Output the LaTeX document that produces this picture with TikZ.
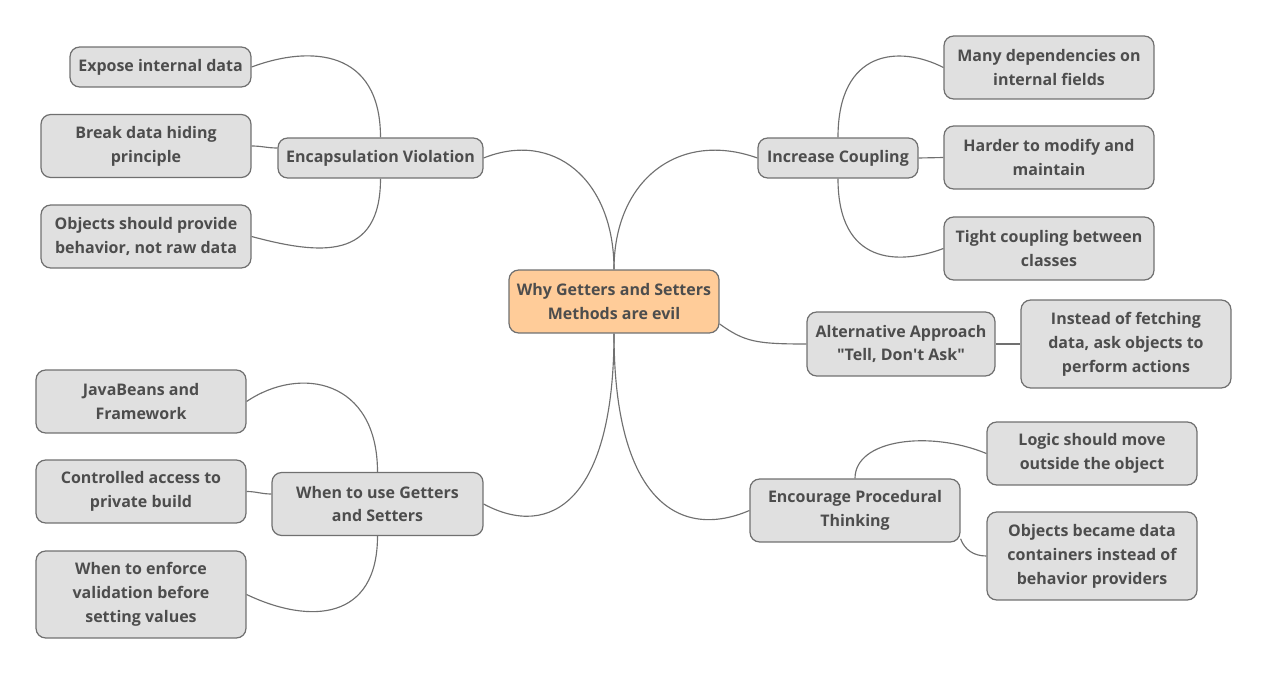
\documentclass[tikz,border=0pt]{standalone}
\usepackage{fontspec}
\setmainfont{Open Sans}
\usepackage{tikz}
\usetikzlibrary{positioning}
\usepackage{xcolor}
\definecolor{rootfill}{RGB}{255,204,153}
\definecolor{topicfill}{RGB}{224,224,224}
\definecolor{edge}{RGB}{112,112,112}
\definecolor{ink}{RGB}{77,77,77}
\tikzset{
  topic/.style={rounded corners=5.5pt, fill=topicfill, draw=edge, line width=0.7pt,
                text=ink, align=center, inner sep=0pt,
                font=\fontsize{9.1}{13.6}\selectfont\bfseries},
  rootnode/.style={topic, fill=rootfill},
  link/.style={draw=edge, line width=0.65pt},
}
\begin{document}
\begin{tikzpicture}[x=0.02cm, y=-0.02cm]
        \useasboundingbox (0, 0) rectangle (1269, 676);
        \node[rootnode, minimum width=4.2cm, minimum height=1.26cm] (root)
          at (614, 301.5) {Why Getters and Setters\\Methods are evil};
        \node[topic, minimum width=4.1cm, minimum height=0.8cm] (encap)
          at (380.5, 158) {Encapsulation Violation};
        \node[topic, minimum width=3.62cm, minimum height=0.8cm] (expose)
          at (160.5, 67) {Expose internal data};
        \node[topic, minimum width=4.2cm, minimum height=1.26cm] (breakhide)
          at (146, 146) {Break data hiding\\principle};
        \node[topic, minimum width=4.2cm, minimum height=1.26cm] (rawdata)
          at (146, 236.5) {Objects should provide\\behavior, not raw data};
        \draw[link] (root.north) .. controls +(0, -90) and +(70, -28) .. (encap.east);
        \draw[link] (encap.north) .. controls +(0, -88) and +(59, -22) .. (expose.east);
        \draw[link] ([yshift=0.2cm]encap.west) to[out=180, in=0] (breakhide.east);
        \draw[link] (encap.south) .. controls +(0, 82) and +(69, 18.5) .. (rawdata.east);
        \node[topic, minimum width=4.22cm, minimum height=1.26cm] (whenuse)
          at (377.5, 504) {When to use Getters\\and Setters};
        \node[topic, minimum width=4.2cm, minimum height=1.26cm] (javabeans)
          at (141, 401.5) {JavaBeans and\\Framework};
        \node[topic, minimum width=4.2cm, minimum height=1.26cm] (privacc)
          at (141, 491.5) {Controlled access to\\private build};
        \node[topic, minimum width=4.2cm, minimum height=1.74cm] (validate)
          at (141, 594.5) {When to enforce\\validation before\\setting values};
        \draw[link] (root.south) .. controls +(0, 167) and +(67, 36) .. (whenuse.east);
        \draw[link] (whenuse.north) .. controls +(0, -92) and +(54, -36.5) .. (javabeans.east);
        \draw[link] ([yshift=0.2cm]whenuse.west) to[out=180, in=0] (privacc.east);
        \draw[link] (whenuse.south) .. controls +(0, 84) and +(64, 30.5) .. (validate.east);
        \node[topic, minimum width=3.2cm, minimum height=0.8cm] (coupling)
          at (838, 158) {Increase Coupling};
        \node[topic, minimum width=4.2cm, minimum height=1.26cm] (deps)
          at (1049, 67.5) {Many dependencies on\\internal fields};
        \node[topic, minimum width=4.2cm, minimum height=1.26cm] (modify)
          at (1049, 157.5) {Harder to modify and\\maintain};
        \node[topic, minimum width=4.2cm, minimum height=1.26cm] (tight)
          at (1049, 248.5) {Tight coupling between\\classes};
        \draw[link] (root.north) .. controls +(0, -90) and +(-78, -28) .. (coupling.west);
        \draw[link] (coupling.north) .. controls +(0, -88) and +(-44, -22.5) .. (deps.west);
        \draw[link] (coupling.east) -- (modify.west);
        \draw[link] (coupling.south) .. controls +(0, 87) and +(-44, 16.5) .. (tight.west);
        \node[topic, minimum width=3.76cm, minimum height=1.28cm] (tellask)
          at (901, 344) {Alternative Approach\\\textquotedbl Tell, Don\textquotesingle t Ask\textquotedbl};
        \node[topic, minimum width=4.2cm, minimum height=1.76cm] (askobj)
          at (1126, 344) {Instead of fetching\\data, ask objects to\\perform actions};
        \draw[link] (root.-12) .. controls +(25, 18) and +(-50, 0) .. (tellask.west);
        \draw[link] (tellask.east) -- (askobj.west);
        \node[topic, minimum width=4.2cm, minimum height=1.26cm] (procedural)
          at (855, 510.5) {Encourage Procedural\\Thinking};
        \node[topic, minimum width=4.2cm, minimum height=1.26cm] (logic)
          at (1092, 453.5) {Logic should move\\outside the object};
        \node[topic, minimum width=4.2cm, minimum height=1.76cm] (containers)
          at (1092, 556) {Objects became data\\containers instead of\\behavior providers};
        \draw[link] (root.south) .. controls +(0, 167) and +(-70, 30) .. (procedural.west);
        \draw[link] (procedural.north) .. controls +(0, -39) and +(-57, -23.5) .. (logic.west);
        \draw[link] (procedural.-15) to[out=-70, in=180] (containers.west);
      \end{tikzpicture}
\end{document}
